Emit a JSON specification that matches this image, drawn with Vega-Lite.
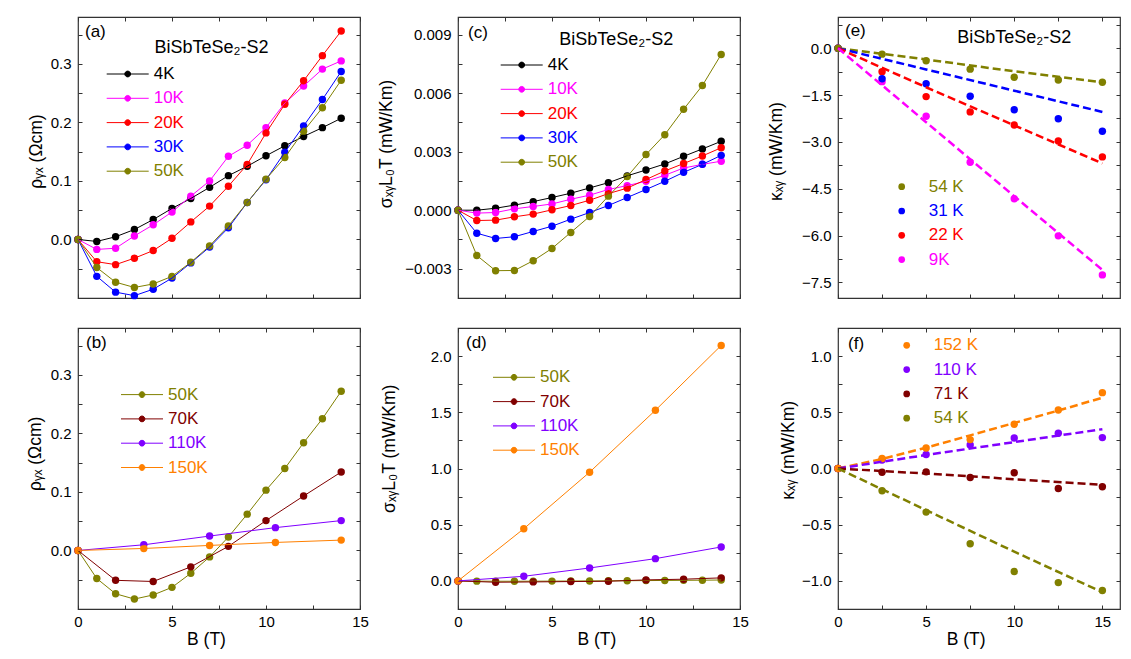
{
  "$schema": "https://vega.github.io/schema/vega-lite/v6.json",
  "autosize": {"type": "pad"},
  "padding": {"left": 25, "top": 15, "right": 0, "bottom": 0},
  "background": "white",
  "config": {
    "font": "Liberation Sans",
    "view": {"stroke": "#333333", "strokeWidth": 1.2},
    "axis": {"domain": false, "grid": false, "ticks": true, "tickSize": -4, "tickColor": "#333333", "tickWidth": 1, "labelFontSize": 15, "labelColor": "#000000", "labelFlush": false, "labelOverlap": false, "titleFontSize": 17.5, "titleFontWeight": "normal", "titleColor": "#000000", "titlePadding": 4},
    "axisX": {"labelPadding": 9},
    "axisY": {"labelPadding": 11},
    "legend": {"labelFontSize": 17, "padding": 0, "rowPadding": 6.3, "labelLimit": 200},
    "title": {"fontSize": 17, "fontWeight": "normal", "anchor": "start", "frame": "group", "offset": 0, "baseline": "middle", "color": "#000000"}
  },
  "resolve": {"scale": {"color": "independent"}, "legend": {"color": "independent"}},
  "datasets": {
    "a": [
      {"T":"4K","B":0,"v":0},{"T":"4K","B":1,"v":-0.0034},{"T":"4K","B":2,"v":0.0046},{"T":"4K","B":3,"v":0.017},{"T":"4K","B":4,"v":0.034},{"T":"4K","B":5,"v":0.053},{"T":"4K","B":6,"v":0.070},{"T":"4K","B":7,"v":0.089},{"T":"4K","B":8,"v":0.109},{"T":"4K","B":9,"v":0.125},{"T":"4K","B":10,"v":0.143},{"T":"4K","B":11,"v":0.160},{"T":"4K","B":12,"v":0.176},{"T":"4K","B":13,"v":0.191},{"T":"4K","B":14,"v":0.207},
      {"T":"10K","B":0,"v":0},{"T":"10K","B":1,"v":-0.017},{"T":"10K","B":2,"v":-0.015},{"T":"10K","B":3,"v":0.006},{"T":"10K","B":4,"v":0.025},{"T":"10K","B":5,"v":0.047},{"T":"10K","B":6,"v":0.074},{"T":"10K","B":7,"v":0.100},{"T":"10K","B":8,"v":0.142},{"T":"10K","B":9,"v":0.161},{"T":"10K","B":10,"v":0.191},{"T":"10K","B":11,"v":0.233},{"T":"10K","B":12,"v":0.262},{"T":"10K","B":13,"v":0.291},{"T":"10K","B":14,"v":0.305},
      {"T":"20K","B":0,"v":0},{"T":"20K","B":1,"v":-0.038},{"T":"20K","B":2,"v":-0.043},{"T":"20K","B":3,"v":-0.032},{"T":"20K","B":4,"v":-0.019},{"T":"20K","B":5,"v":0.002},{"T":"20K","B":6,"v":0.030},{"T":"20K","B":7,"v":0.057},{"T":"20K","B":8,"v":0.091},{"T":"20K","B":9,"v":0.128},{"T":"20K","B":10,"v":0.182},{"T":"20K","B":11,"v":0.231},{"T":"20K","B":12,"v":0.271},{"T":"20K","B":13,"v":0.314},{"T":"20K","B":14,"v":0.356},
      {"T":"30K","B":0,"v":0},{"T":"30K","B":1,"v":-0.063},{"T":"30K","B":2,"v":-0.090},{"T":"30K","B":3,"v":-0.096},{"T":"30K","B":4,"v":-0.085},{"T":"30K","B":5,"v":-0.066},{"T":"30K","B":6,"v":-0.040},{"T":"30K","B":7,"v":-0.013},{"T":"30K","B":8,"v":0.020},{"T":"30K","B":9,"v":0.063},{"T":"30K","B":10,"v":0.102},{"T":"30K","B":11,"v":0.149},{"T":"30K","B":12,"v":0.194},{"T":"30K","B":13,"v":0.239},{"T":"30K","B":14,"v":0.287},
      {"T":"50K","B":0,"v":0},{"T":"50K","B":1,"v":-0.048},{"T":"50K","B":2,"v":-0.073},{"T":"50K","B":3,"v":-0.082},{"T":"50K","B":4,"v":-0.076},{"T":"50K","B":5,"v":-0.063},{"T":"50K","B":6,"v":-0.039},{"T":"50K","B":7,"v":-0.011},{"T":"50K","B":8,"v":0.023},{"T":"50K","B":9,"v":0.063},{"T":"50K","B":10,"v":0.103},{"T":"50K","B":11,"v":0.140},{"T":"50K","B":12,"v":0.185},{"T":"50K","B":13,"v":0.225},{"T":"50K","B":14,"v":0.272}
    ],
    "b": [
      {"T":"50K","B":0,"v":0},{"T":"50K","B":1,"v":-0.048},{"T":"50K","B":2,"v":-0.074},{"T":"50K","B":3,"v":-0.083},{"T":"50K","B":4,"v":-0.076},{"T":"50K","B":5,"v":-0.063},{"T":"50K","B":6,"v":-0.039},{"T":"50K","B":7,"v":-0.011},{"T":"50K","B":8,"v":0.023},{"T":"50K","B":9,"v":0.062},{"T":"50K","B":10,"v":0.103},{"T":"50K","B":11,"v":0.140},{"T":"50K","B":12,"v":0.184},{"T":"50K","B":13,"v":0.225},{"T":"50K","B":14,"v":0.272},
      {"T":"70K","B":0,"v":0},{"T":"70K","B":2,"v":-0.051},{"T":"70K","B":4,"v":-0.053},{"T":"70K","B":6,"v":-0.028},{"T":"70K","B":8,"v":0.007},{"T":"70K","B":10,"v":0.051},{"T":"70K","B":12,"v":0.093},{"T":"70K","B":14,"v":0.134},
      {"T":"110K","B":0,"v":0},{"T":"110K","B":3.5,"v":0.0097},{"T":"110K","B":7,"v":0.0246},{"T":"110K","B":10.5,"v":0.039},{"T":"110K","B":14,"v":0.051},
      {"T":"150K","B":0,"v":0},{"T":"150K","B":3.5,"v":0.0034},{"T":"150K","B":7,"v":0.0086},{"T":"150K","B":10.5,"v":0.0137},{"T":"150K","B":14,"v":0.0177}
    ],
    "c": [
      {"T":"4K","B":0,"v":0},{"T":"4K","B":1,"v":0},{"T":"4K","B":2,"v":0.0001},{"T":"4K","B":3,"v":0.00026},{"T":"4K","B":4,"v":0.00044},{"T":"4K","B":5,"v":0.00065},{"T":"4K","B":6,"v":0.00087},{"T":"4K","B":7,"v":0.00114},{"T":"4K","B":8,"v":0.00141},{"T":"4K","B":9,"v":0.00176},{"T":"4K","B":10,"v":0.00206},{"T":"4K","B":11,"v":0.00237},{"T":"4K","B":12,"v":0.00276},{"T":"4K","B":13,"v":0.00314},{"T":"4K","B":14,"v":0.00353},
      {"T":"10K","B":0,"v":0},{"T":"10K","B":1,"v":-0.00015},{"T":"10K","B":2,"v":-0.00012},{"T":"10K","B":3,"v":0.00007},{"T":"10K","B":4,"v":0.00019},{"T":"10K","B":5,"v":0.00032},{"T":"10K","B":6,"v":0.00056},{"T":"10K","B":7,"v":0.00077},{"T":"10K","B":8,"v":0.00106},{"T":"10K","B":9,"v":0.00126},{"T":"10K","B":10,"v":0.00148},{"T":"10K","B":11,"v":0.00179},{"T":"10K","B":12,"v":0.00216},{"T":"10K","B":13,"v":0.00235},{"T":"10K","B":14,"v":0.00251},
      {"T":"20K","B":0,"v":0},{"T":"20K","B":1,"v":-0.00053},{"T":"20K","B":2,"v":-0.00051},{"T":"20K","B":3,"v":-0.00034},{"T":"20K","B":4,"v":-0.0002},{"T":"20K","B":5,"v":0.00002},{"T":"20K","B":6,"v":0.00024},{"T":"20K","B":7,"v":0.00051},{"T":"20K","B":8,"v":0.00085},{"T":"20K","B":9,"v":0.00113},{"T":"20K","B":10,"v":0.00157},{"T":"20K","B":11,"v":0.00201},{"T":"20K","B":12,"v":0.00239},{"T":"20K","B":13,"v":0.00278},{"T":"20K","B":14,"v":0.0032},
      {"T":"30K","B":0,"v":0},{"T":"30K","B":1,"v":-0.00118},{"T":"30K","B":2,"v":-0.00145},{"T":"30K","B":3,"v":-0.00136},{"T":"30K","B":4,"v":-0.00109},{"T":"30K","B":5,"v":-0.00082},{"T":"30K","B":6,"v":-0.00046},{"T":"30K","B":7,"v":-0.00012},{"T":"30K","B":8,"v":0.00024},{"T":"30K","B":9,"v":0.00065},{"T":"30K","B":10,"v":0.00106},{"T":"30K","B":11,"v":0.00148},{"T":"30K","B":12,"v":0.00194},{"T":"30K","B":13,"v":0.00235},{"T":"30K","B":14,"v":0.00281},
      {"T":"50K","B":0,"v":0},{"T":"50K","B":1,"v":-0.00232},{"T":"50K","B":2,"v":-0.0031},{"T":"50K","B":3,"v":-0.00309},{"T":"50K","B":4,"v":-0.00259},{"T":"50K","B":5,"v":-0.00196},{"T":"50K","B":6,"v":-0.00114},{"T":"50K","B":7,"v":-0.00032},{"T":"50K","B":8,"v":0.00072},{"T":"50K","B":9,"v":0.00172},{"T":"50K","B":10,"v":0.00285},{"T":"50K","B":11,"v":0.00387},{"T":"50K","B":12,"v":0.00517},{"T":"50K","B":13,"v":0.00639},{"T":"50K","B":14,"v":0.00798}
    ],
    "d": [
      {"T":"50K","B":0,"v":0},{"T":"50K","B":1,"v":-0.00232},{"T":"50K","B":2,"v":-0.0031},{"T":"50K","B":3,"v":-0.00309},{"T":"50K","B":4,"v":-0.00259},{"T":"50K","B":5,"v":-0.00196},{"T":"50K","B":6,"v":-0.00114},{"T":"50K","B":7,"v":-0.00032},{"T":"50K","B":8,"v":0.00072},{"T":"50K","B":9,"v":0.00172},{"T":"50K","B":10,"v":0.00285},{"T":"50K","B":11,"v":0.00387},{"T":"50K","B":12,"v":0.00517},{"T":"50K","B":13,"v":0.00639},{"T":"50K","B":14,"v":0.00798},
      {"T":"70K","B":0,"v":0},{"T":"70K","B":2,"v":-0.012},{"T":"70K","B":4,"v":-0.009},{"T":"70K","B":6,"v":-0.006},{"T":"70K","B":8,"v":-0.003},{"T":"70K","B":10,"v":0.009},{"T":"70K","B":12,"v":0.015},{"T":"70K","B":14,"v":0.027},
      {"T":"110K","B":0,"v":0},{"T":"110K","B":3.5,"v":0.041},{"T":"110K","B":7,"v":0.115},{"T":"110K","B":10.5,"v":0.198},{"T":"110K","B":14,"v":0.302},
      {"T":"150K","B":0,"v":0},{"T":"150K","B":3.5,"v":0.464},{"T":"150K","B":7,"v":0.967},{"T":"150K","B":10.5,"v":1.518},{"T":"150K","B":14,"v":2.095}
    ],
    "e": [
      {"T":"9K","B":0,"v":0},{"T":"9K","B":2.5,"v":-1.07},{"T":"9K","B":5,"v":-2.18},{"T":"9K","B":7.5,"v":-3.65},{"T":"9K","B":10,"v":-4.82},{"T":"9K","B":12.5,"v":-6.01},{"T":"9K","B":15,"v":-7.26},
      {"T":"22 K","B":0,"v":0},{"T":"22 K","B":2.5,"v":-0.75},{"T":"22 K","B":5,"v":-1.55},{"T":"22 K","B":7.5,"v":-2.04},{"T":"22 K","B":10,"v":-2.46},{"T":"22 K","B":12.5,"v":-2.97},{"T":"22 K","B":15,"v":-3.48},
      {"T":"31 K","B":0,"v":0},{"T":"31 K","B":2.5,"v":-0.98},{"T":"31 K","B":5,"v":-1.14},{"T":"31 K","B":7.5,"v":-1.54},{"T":"31 K","B":10,"v":-1.97},{"T":"31 K","B":12.5,"v":-2.26},{"T":"31 K","B":15,"v":-2.66},
      {"T":"54 K","B":0,"v":0},{"T":"54 K","B":2.5,"v":-0.19},{"T":"54 K","B":5,"v":-0.40},{"T":"54 K","B":7.5,"v":-0.67},{"T":"54 K","B":10,"v":-0.93},{"T":"54 K","B":12.5,"v":-1.02},{"T":"54 K","B":15,"v":-1.09}
    ],
    "efit": [
      {"T":"54 K","B":0,"v":0},{"T":"54 K","B":5,"v":-0.36},{"T":"54 K","B":10,"v":-0.74},{"T":"54 K","B":15,"v":-1.09},
      {"T":"31 K","B":0,"v":0},{"T":"31 K","B":5,"v":-0.68},{"T":"31 K","B":10,"v":-1.36},{"T":"31 K","B":15,"v":-2.04},
      {"T":"22 K","B":0,"v":0},{"T":"22 K","B":5,"v":-1.25},{"T":"22 K","B":10,"v":-2.47},{"T":"22 K","B":15,"v":-3.69},
      {"T":"9K","B":0,"v":0},{"T":"9K","B":5,"v":-2.37},{"T":"9K","B":10,"v":-4.74},{"T":"9K","B":15,"v":-7.10}
    ],
    "f": [
      {"T":"54 K","B":0,"v":0},{"T":"54 K","B":2.5,"v":-0.198},{"T":"54 K","B":5,"v":-0.388},{"T":"54 K","B":7.5,"v":-0.669},{"T":"54 K","B":10,"v":-0.917},{"T":"54 K","B":12.5,"v":-1.015},{"T":"54 K","B":15,"v":-1.086},
      {"T":"71 K","B":0,"v":0},{"T":"71 K","B":2.5,"v":-0.033},{"T":"71 K","B":5,"v":-0.03},{"T":"71 K","B":7.5,"v":-0.08},{"T":"71 K","B":10,"v":-0.038},{"T":"71 K","B":12.5,"v":-0.178},{"T":"71 K","B":15,"v":-0.163},
      {"T":"110 K","B":0,"v":0},{"T":"110 K","B":2.5,"v":0.075},{"T":"110 K","B":5,"v":0.124},{"T":"110 K","B":7.5,"v":0.21},{"T":"110 K","B":10,"v":0.272},{"T":"110 K","B":12.5,"v":0.314},{"T":"110 K","B":15,"v":0.275},
      {"T":"152 K","B":0,"v":0},{"T":"152 K","B":2.5,"v":0.089},{"T":"152 K","B":5,"v":0.183},{"T":"152 K","B":7.5,"v":0.257},{"T":"152 K","B":10,"v":0.393},{"T":"152 K","B":12.5,"v":0.521},{"T":"152 K","B":15,"v":0.675}
    ],
    "ffit": [
      {"T":"152 K","B":0,"v":0},{"T":"152 K","B":2.5,"v":0.085},{"T":"152 K","B":5,"v":0.185},{"T":"152 K","B":7.5,"v":0.295},{"T":"152 K","B":10,"v":0.405},{"T":"152 K","B":12.5,"v":0.515},{"T":"152 K","B":15,"v":0.63},
      {"T":"110 K","B":0,"v":0},{"T":"110 K","B":5,"v":0.12},{"T":"110 K","B":10,"v":0.235},{"T":"110 K","B":15,"v":0.35},
      {"T":"71 K","B":0,"v":0},{"T":"71 K","B":5,"v":-0.045},{"T":"71 K","B":10,"v":-0.095},{"T":"71 K","B":15,"v":-0.145},
      {"T":"54 K","B":0,"v":0},{"T":"54 K","B":5,"v":-0.37},{"T":"54 K","B":10,"v":-0.74},{"T":"54 K","B":15,"v":-1.1}
    ]
  },
  "concat": [
    {
      "width": 282, "height": 281,
      "data": {"name": "a"},
      "title": {"text": "(a)", "dx": 7, "dy": 28.5},
      "layer": [
        {"mark": {"type": "point", "filled": true, "size": 55, "opacity": 1},
         "encoding": {
           "x": {"field": "B", "type": "quantitative", "scale": {"domain": [0, 15], "nice": false, "zero": false}, "axis": {"values": [0,2.5,5,7.5,10,12.5,15], "labels": false, "title": null}},
           "y": {"field": "v", "type": "quantitative", "scale": {"domain": [-0.1, 0.38], "nice": false, "zero": false}, "axis": {"values": [-0.05,0,0.05,0.1,0.15,0.2,0.25,0.3,0.35], "labelExpr": "abs(datum.value*10-round(datum.value*10))<1e-6 ? format(datum.value,'.1f') : ''", "title": "ρᵧₓ (Ωcm)", "titleX": -41.5, "titleY": 134, "titleAngle": 270, "titleAlign": "center", "titleBaseline": "middle"}},
           "color": {"field": "T", "type": "nominal", "scale": {"domain": ["4K","10K","20K","30K","50K"], "range": ["#000000","#ff00ff","#ff0000","#0000ff","#808000"]},
             "legend": {"orient": "none", "legendX": 41.2, "legendY": 48.5, "title": null, "symbolType": "M-3.5,0L3.5,0M-0.48,0A0.48,0.48,0,1,1,0.48,0A0.48,0.48,0,1,1,-0.48,0Z", "symbolSize": 144, "symbolStrokeWidth": 1, "labelOffset": 17.5,
               "labelColor": {"expr": "datum.value==='4K'?'#000000':datum.value==='10K'?'#ff00ff':datum.value==='20K'?'#ff0000':datum.value==='30K'?'#0000ff':'#808000'"}}}
         }},
        {"mark": {"type": "line", "strokeWidth": 1},
         "encoding": {
           "x": {"field": "B", "type": "quantitative", "scale": {"domain": [0, 15], "nice": false, "zero": false}, "axis": null},
           "y": {"field": "v", "type": "quantitative", "scale": {"domain": [-0.1, 0.38], "nice": false, "zero": false}, "axis": null},
           "color": {"field": "T", "type": "nominal", "scale": {"domain": ["4K","10K","20K","30K","50K"], "range": ["#000000","#ff00ff","#ff0000","#0000ff","#808000"]},
             "legend": {"orient": "none", "legendX": 41.2, "legendY": 48.5, "title": null, "symbolType": "M-3.5,0L3.5,0M-0.48,0A0.48,0.48,0,1,1,0.48,0A0.48,0.48,0,1,1,-0.48,0Z", "symbolSize": 144, "symbolStrokeWidth": 1, "labelOffset": 17.5,
               "labelColor": {"expr": "datum.value==='4K'?'#000000':datum.value==='10K'?'#ff00ff':datum.value==='20K'?'#ff0000':datum.value==='30K'?'#0000ff':'#808000'"}}}
         }},
        {"mark": {"type": "point", "opacity": 0},
         "encoding": {
           "x": {"field": "B", "type": "quantitative", "scale": {"domain": [0, 15], "nice": false, "zero": false}, "axis": {"orient": "top", "values": [0,2.5,5,7.5,10,12.5,15], "labels": false, "title": "BiSbTeSe₂-S2", "titleFontSize": 18, "titleX": 76, "titleY": 35, "titleAlign": "left", "titleBaseline": "alphabetic", "titleAngle": 0}},
           "y": {"field": "v", "type": "quantitative", "scale": {"domain": [-0.1, 0.38], "nice": false, "zero": false}, "axis": {"orient": "right", "values": [-0.05,0,0.05,0.1,0.15,0.2,0.25,0.3,0.35], "labels": false, "title": null}}
         }}
      ],
      "resolve": {"axis": {"x": "independent", "y": "independent"}}
    },
    {
      "width": 282, "height": 281,
      "data": {"name": "c"},
      "title": {"text": "(c)", "dx": 10, "dy": 29},
      "layer": [
        {"mark": {"type": "point", "filled": true, "size": 55, "opacity": 1},
         "encoding": {
           "x": {"field": "B", "type": "quantitative", "scale": {"domain": [0, 15], "nice": false, "zero": false}, "axis": {"values": [0,2.5,5,7.5,10,12.5,15], "labels": false, "title": null}},
           "y": {"field": "v", "type": "quantitative", "scale": {"domain": [-0.0045, 0.0099], "nice": false, "zero": false}, "axis": {"values": [-0.003,-0.0015,0,0.0015,0.003,0.0045,0.006,0.0075,0.009], "labelExpr": "abs(datum.value/0.003-round(datum.value/0.003))<1e-6 ? format(datum.value,'.3f') : ''", "title": "σₓᵧL₀T (mW/Km)", "titleX": -72, "titleY": 126.5, "titleAngle": 270, "titleAlign": "center", "titleBaseline": "middle"}},
           "color": {"field": "T", "type": "nominal", "scale": {"domain": ["4K","10K","20K","30K","50K"], "range": ["#000000","#ff00ff","#ff0000","#0000ff","#808000"]},
             "legend": {"orient": "none", "legendX": 55.2, "legendY": 39.5, "title": null, "symbolType": "M-3.5,0L3.5,0M-0.48,0A0.48,0.48,0,1,1,0.48,0A0.48,0.48,0,1,1,-0.48,0Z", "symbolSize": 144, "symbolStrokeWidth": 1, "labelOffset": 17.5,
               "labelColor": {"expr": "datum.value==='4K'?'#000000':datum.value==='10K'?'#ff00ff':datum.value==='20K'?'#ff0000':datum.value==='30K'?'#0000ff':'#808000'"}}}
         }},
        {"mark": {"type": "line", "strokeWidth": 1},
         "encoding": {
           "x": {"field": "B", "type": "quantitative", "scale": {"domain": [0, 15], "nice": false, "zero": false}, "axis": null},
           "y": {"field": "v", "type": "quantitative", "scale": {"domain": [-0.0045, 0.0099], "nice": false, "zero": false}, "axis": null},
           "color": {"field": "T", "type": "nominal", "scale": {"domain": ["4K","10K","20K","30K","50K"], "range": ["#000000","#ff00ff","#ff0000","#0000ff","#808000"]},
             "legend": {"orient": "none", "legendX": 55.2, "legendY": 39.5, "title": null, "symbolType": "M-3.5,0L3.5,0M-0.48,0A0.48,0.48,0,1,1,0.48,0A0.48,0.48,0,1,1,-0.48,0Z", "symbolSize": 144, "symbolStrokeWidth": 1, "labelOffset": 17.5,
               "labelColor": {"expr": "datum.value==='4K'?'#000000':datum.value==='10K'?'#ff00ff':datum.value==='20K'?'#ff0000':datum.value==='30K'?'#0000ff':'#808000'"}}}
         }},
        {"mark": {"type": "point", "opacity": 0},
         "encoding": {
           "x": {"field": "B", "type": "quantitative", "scale": {"domain": [0, 15], "nice": false, "zero": false}, "axis": {"orient": "top", "values": [0,2.5,5,7.5,10,12.5,15], "labels": false, "title": "BiSbTeSe₂-S2", "titleFontSize": 18, "titleX": 100.7, "titleY": 27.3, "titleAlign": "left", "titleBaseline": "alphabetic", "titleAngle": 0}},
           "y": {"field": "v", "type": "quantitative", "scale": {"domain": [-0.0045, 0.0099], "nice": false, "zero": false}, "axis": {"orient": "right", "values": [-0.003,-0.0015,0,0.0015,0.003,0.0045,0.006,0.0075,0.009], "labels": false, "title": null}}
         }}
      ],
      "resolve": {"axis": {"x": "independent", "y": "independent"}}
    },
    {
      "width": 282, "height": 281,
      "title": {"text": "(e)", "dx": 7, "dy": 27.3},
      "layer": [
        {"data": {"name": "e"},
         "mark": {"type": "point", "filled": true, "size": 55, "opacity": 1},
         "encoding": {
           "x": {"field": "B", "type": "quantitative", "scale": {"domain": [0, 16], "nice": false, "zero": false}, "axis": {"values": [0,2.5,5,7.5,10,12.5,15], "labels": false, "title": null}},
           "y": {"field": "v", "type": "quantitative", "scale": {"domain": [-8, 1], "nice": false, "zero": false}, "axis": {"values": [0.75,0,-0.75,-1.5,-2.25,-3,-3.75,-4.5,-5.25,-6,-6.75,-7.5], "labelExpr": "abs(datum.value/1.5-round(datum.value/1.5))<1e-6 ? format(datum.value,'.1f') : ''", "title": "κₓᵧ (mW/Km)", "titleX": -61.5, "titleY": 134, "titleAngle": 270, "titleAlign": "center", "titleBaseline": "middle"}},
           "color": {"field": "T", "type": "nominal", "scale": {"domain": ["54 K","31 K","22 K","9K"], "range": ["#808000","#0000ff","#ff0000","#ff00ff"]},
             "legend": {"orient": "none", "legendX": 55.2, "legendY": 161.2, "title": null, "symbolType": "circle", "symbolSize": 45, "symbolStrokeWidth": 0, "labelOffset": 18.5,
               "labelColor": {"expr": "datum.value==='54 K'?'#808000':datum.value==='31 K'?'#0000ff':datum.value==='22 K'?'#ff0000':'#ff00ff'"}}}
         }},
        {"data": {"name": "efit"},
         "mark": {"type": "line", "strokeWidth": 2.5, "strokeDash": [8, 4]},
         "encoding": {
           "x": {"field": "B", "type": "quantitative", "scale": {"domain": [0, 16], "nice": false, "zero": false}, "axis": null},
           "y": {"field": "v", "type": "quantitative", "scale": {"domain": [-8, 1], "nice": false, "zero": false}, "axis": null},
           "color": {"field": "T", "type": "nominal", "scale": {"domain": ["54 K","31 K","22 K","9K"], "range": ["#808000","#0000ff","#ff0000","#ff00ff"]},
             "legend": {"orient": "none", "legendX": 55.2, "legendY": 161.2, "title": null, "symbolType": "circle", "symbolSize": 45, "symbolStrokeWidth": 0, "labelOffset": 18.5,
               "labelColor": {"expr": "datum.value==='54 K'?'#808000':datum.value==='31 K'?'#0000ff':datum.value==='22 K'?'#ff0000':'#ff00ff'"}}}
         }},
        {"data": {"name": "e"},
         "mark": {"type": "point", "opacity": 0},
         "encoding": {
           "x": {"field": "B", "type": "quantitative", "scale": {"domain": [0, 16], "nice": false, "zero": false}, "axis": {"orient": "top", "values": [0,2.5,5,7.5,10,12.5,15], "labels": false, "title": "BiSbTeSe₂-S2", "titleFontSize": 18, "titleX": 118.7, "titleY": 25.7, "titleAlign": "left", "titleBaseline": "alphabetic", "titleAngle": 0}},
           "y": {"field": "v", "type": "quantitative", "scale": {"domain": [-8, 1], "nice": false, "zero": false}, "axis": {"orient": "right", "values": [0.75,0,-0.75,-1.5,-2.25,-3,-3.75,-4.5,-5.25,-6,-6.75,-7.5], "labels": false, "title": null}}
         }}
      ],
      "resolve": {"axis": {"x": "independent", "y": "independent"}}
    },
    {
      "width": 282, "height": 281,
      "data": {"name": "b"},
      "title": {"text": "(b)", "dx": 8, "dy": 28.3},
      "layer": [
        {"mark": {"type": "point", "filled": true, "size": 55, "opacity": 1},
         "encoding": {
           "x": {"field": "B", "type": "quantitative", "scale": {"domain": [0, 15], "nice": false, "zero": false}, "axis": {"values": [0,2.5,5,7.5,10,12.5,15], "labelExpr": "datum.value % 5 === 0 ? format(datum.value,'d') : ''", "title": "B (T)", "titleX": 128, "titleY": 30.4, "titleBaseline": "middle", "titleAlign": "center"}},
           "y": {"field": "v", "type": "quantitative", "scale": {"domain": [-0.1, 0.38], "nice": false, "zero": false}, "axis": {"values": [-0.05,0,0.05,0.1,0.15,0.2,0.25,0.3,0.35], "labelExpr": "abs(datum.value*10-round(datum.value*10))<1e-6 ? format(datum.value,'.1f') : ''", "title": "ρᵧₓ (Ωcm)", "titleX": -42.5, "titleY": 125.3, "titleAngle": 270, "titleAlign": "center", "titleBaseline": "middle"}},
           "color": {"field": "T", "type": "nominal", "scale": {"domain": ["50K","70K","110K","150K"], "range": ["#808000","#800000","#8000ff","#ff8000"]},
             "legend": {"orient": "none", "legendX": 55.5, "legendY": 58.1, "title": null, "symbolType": "M-3.5,0L3.5,0M-0.48,0A0.48,0.48,0,1,1,0.48,0A0.48,0.48,0,1,1,-0.48,0Z", "symbolSize": 144, "symbolStrokeWidth": 1, "labelOffset": 17.5,
               "labelColor": {"expr": "datum.value==='50K'?'#808000':datum.value==='70K'?'#800000':datum.value==='110K'?'#8000ff':'#ff8000'"}}}
         }},
        {"mark": {"type": "line", "strokeWidth": 1},
         "encoding": {
           "x": {"field": "B", "type": "quantitative", "scale": {"domain": [0, 15], "nice": false, "zero": false}, "axis": null},
           "y": {"field": "v", "type": "quantitative", "scale": {"domain": [-0.1, 0.38], "nice": false, "zero": false}, "axis": null},
           "color": {"field": "T", "type": "nominal", "scale": {"domain": ["50K","70K","110K","150K"], "range": ["#808000","#800000","#8000ff","#ff8000"]},
             "legend": {"orient": "none", "legendX": 55.5, "legendY": 58.1, "title": null, "symbolType": "M-3.5,0L3.5,0M-0.48,0A0.48,0.48,0,1,1,0.48,0A0.48,0.48,0,1,1,-0.48,0Z", "symbolSize": 144, "symbolStrokeWidth": 1, "labelOffset": 17.5,
               "labelColor": {"expr": "datum.value==='50K'?'#808000':datum.value==='70K'?'#800000':datum.value==='110K'?'#8000ff':'#ff8000'"}}}
         }},
        {"mark": {"type": "point", "opacity": 0},
         "encoding": {
           "x": {"field": "B", "type": "quantitative", "scale": {"domain": [0, 15], "nice": false, "zero": false}, "axis": {"orient": "top", "values": [0,2.5,5,7.5,10,12.5,15], "labels": false, "title": null}},
           "y": {"field": "v", "type": "quantitative", "scale": {"domain": [-0.1, 0.38], "nice": false, "zero": false}, "axis": {"orient": "right", "values": [-0.05,0,0.05,0.1,0.15,0.2,0.25,0.3,0.35], "labels": false, "title": null}}
         }}
      ],
      "resolve": {"axis": {"x": "independent", "y": "independent"}}
    },
    {
      "width": 282, "height": 281,
      "data": {"name": "d"},
      "title": {"text": "(d)", "dx": 8, "dy": 28.3},
      "layer": [
        {"mark": {"type": "point", "filled": true, "size": 55, "opacity": 1},
         "encoding": {
           "x": {"field": "B", "type": "quantitative", "scale": {"domain": [0, 15], "nice": false, "zero": false}, "axis": {"values": [0,2.5,5,7.5,10,12.5,15], "labelExpr": "datum.value % 5 === 0 ? format(datum.value,'d') : ''", "title": "B (T)", "titleX": 138.4, "titleY": 30.4, "titleBaseline": "middle", "titleAlign": "center"}},
           "y": {"field": "v", "type": "quantitative", "scale": {"domain": [-0.25, 2.25], "nice": false, "zero": false}, "axis": {"values": [0,0.25,0.5,0.75,1,1.25,1.5,1.75,2], "labelExpr": "abs(datum.value*2-round(datum.value*2))<1e-6 ? format(datum.value,'.1f') : ''", "title": "σₓᵧL₀T (mW/Km)", "titleX": -68.5, "titleY": 120.3, "titleAngle": 270, "titleAlign": "center", "titleBaseline": "middle"}},
           "color": {"field": "T", "type": "nominal", "scale": {"domain": ["50K","70K","110K","150K"], "range": ["#808000","#800000","#8000ff","#ff8000"]},
             "legend": {"orient": "none", "legendX": 47.5, "legendY": 40.8, "title": null, "symbolType": "M-3.5,0L3.5,0M-0.48,0A0.48,0.48,0,1,1,0.48,0A0.48,0.48,0,1,1,-0.48,0Z", "symbolSize": 144, "symbolStrokeWidth": 1, "labelOffset": 17.5,
               "labelColor": {"expr": "datum.value==='50K'?'#808000':datum.value==='70K'?'#800000':datum.value==='110K'?'#8000ff':'#ff8000'"}}}
         }},
        {"mark": {"type": "line", "strokeWidth": 1},
         "encoding": {
           "x": {"field": "B", "type": "quantitative", "scale": {"domain": [0, 15], "nice": false, "zero": false}, "axis": null},
           "y": {"field": "v", "type": "quantitative", "scale": {"domain": [-0.25, 2.25], "nice": false, "zero": false}, "axis": null},
           "color": {"field": "T", "type": "nominal", "scale": {"domain": ["50K","70K","110K","150K"], "range": ["#808000","#800000","#8000ff","#ff8000"]},
             "legend": {"orient": "none", "legendX": 47.5, "legendY": 40.8, "title": null, "symbolType": "M-3.5,0L3.5,0M-0.48,0A0.48,0.48,0,1,1,0.48,0A0.48,0.48,0,1,1,-0.48,0Z", "symbolSize": 144, "symbolStrokeWidth": 1, "labelOffset": 17.5,
               "labelColor": {"expr": "datum.value==='50K'?'#808000':datum.value==='70K'?'#800000':datum.value==='110K'?'#8000ff':'#ff8000'"}}}
         }},
        {"mark": {"type": "point", "opacity": 0},
         "encoding": {
           "x": {"field": "B", "type": "quantitative", "scale": {"domain": [0, 15], "nice": false, "zero": false}, "axis": {"orient": "top", "values": [0,2.5,5,7.5,10,12.5,15], "labels": false, "title": null}},
           "y": {"field": "v", "type": "quantitative", "scale": {"domain": [-0.25, 2.25], "nice": false, "zero": false}, "axis": {"orient": "right", "values": [0,0.25,0.5,0.75,1,1.25,1.5,1.75,2], "labels": false, "title": null}}
         }}
      ],
      "resolve": {"axis": {"x": "independent", "y": "independent"}}
    },
    {
      "width": 282, "height": 281,
      "title": {"text": "(f)", "dx": 10, "dy": 29},
      "layer": [
        {"data": {"name": "f"},
         "mark": {"type": "point", "filled": true, "size": 55, "opacity": 1},
         "encoding": {
           "x": {"field": "B", "type": "quantitative", "scale": {"domain": [0, 16], "nice": false, "zero": false}, "axis": {"values": [0,2.5,5,7.5,10,12.5,15], "labelExpr": "datum.value % 5 === 0 ? format(datum.value,'d') : ''", "title": "B (T)", "titleX": 127.7, "titleY": 30.4, "titleBaseline": "middle", "titleAlign": "center"}},
           "y": {"field": "v", "type": "quantitative", "scale": {"domain": [-1.25, 1.25], "nice": false, "zero": false}, "axis": {"values": [-1,-0.75,-0.5,-0.25,0,0.25,0.5,0.75,1], "labelExpr": "abs(datum.value*2-round(datum.value*2))<1e-6 ? format(datum.value,'.1f') : ''", "title": "κₓᵧ (mW/Km)", "titleX": -50, "titleY": 121.8, "titleAngle": 270, "titleAlign": "center", "titleBaseline": "middle"}},
           "color": {"field": "T", "type": "nominal", "scale": {"domain": ["152 K","110 K","71 K","54 K"], "range": ["#ff8000","#8000ff","#800000","#808000"]},
             "legend": {"orient": "none", "legendX": 60.2, "legendY": 8.8, "title": null, "symbolType": "circle", "symbolSize": 45, "symbolStrokeWidth": 0, "labelOffset": 18.5,
               "labelColor": {"expr": "datum.value==='152 K'?'#ff8000':datum.value==='110 K'?'#8000ff':datum.value==='71 K'?'#800000':'#808000'"}}}
         }},
        {"data": {"name": "ffit"},
         "mark": {"type": "line", "strokeWidth": 2.5, "strokeDash": [8, 4]},
         "encoding": {
           "x": {"field": "B", "type": "quantitative", "scale": {"domain": [0, 16], "nice": false, "zero": false}, "axis": null},
           "y": {"field": "v", "type": "quantitative", "scale": {"domain": [-1.25, 1.25], "nice": false, "zero": false}, "axis": null},
           "color": {"field": "T", "type": "nominal", "scale": {"domain": ["152 K","110 K","71 K","54 K"], "range": ["#ff8000","#8000ff","#800000","#808000"]},
             "legend": {"orient": "none", "legendX": 60.2, "legendY": 8.8, "title": null, "symbolType": "circle", "symbolSize": 45, "symbolStrokeWidth": 0, "labelOffset": 18.5,
               "labelColor": {"expr": "datum.value==='152 K'?'#ff8000':datum.value==='110 K'?'#8000ff':datum.value==='71 K'?'#800000':'#808000'"}}}
         }},
        {"data": {"name": "f"},
         "mark": {"type": "point", "opacity": 0},
         "encoding": {
           "x": {"field": "B", "type": "quantitative", "scale": {"domain": [0, 16], "nice": false, "zero": false}, "axis": {"orient": "top", "values": [0,2.5,5,7.5,10,12.5,15], "labels": false, "title": null}},
           "y": {"field": "v", "type": "quantitative", "scale": {"domain": [-1.25, 1.25], "nice": false, "zero": false}, "axis": {"orient": "right", "values": [-1,-0.75,-0.5,-0.25,0,0.25,0.5,0.75,1], "labels": false, "title": null}}
         }}
      ],
      "resolve": {"axis": {"x": "independent", "y": "independent"}}
    }
  ],
  "columns": 3,
  "spacing": {"row": 30, "column": 98},
  "bounds": "flush"
}
